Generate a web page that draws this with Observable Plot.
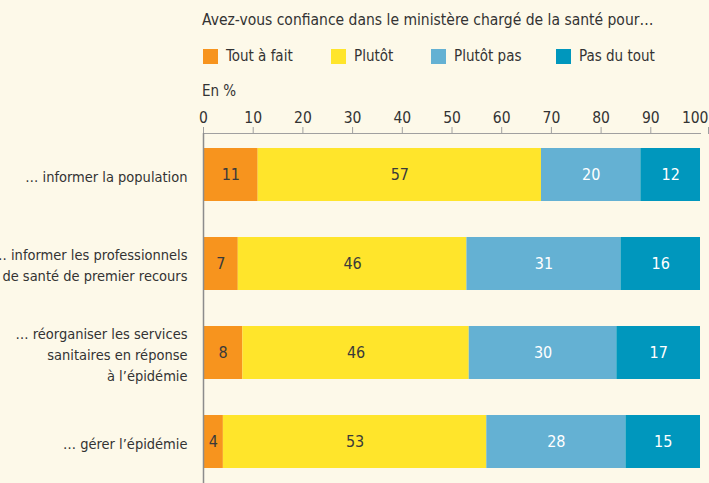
<!DOCTYPE html>
<html>
<head>
<meta charset="utf-8">
<script src="https://cdn.jsdelivr.net/npm/d3@7"></script>
<script src="https://cdn.jsdelivr.net/npm/@observablehq/plot@0.6"></script>
<style>
  html, body { margin: 0; padding: 0; background: #fdf9e9; }
  body { width: 709px; height: 483px; overflow: hidden; position: relative;
         font-family: "DejaVu Sans Condensed", "Roboto", sans-serif; color: #333; }
  #title { position: absolute; left: 202px; top: 11px; font-size: 15.5px; white-space: nowrap; }
  #legend { position: absolute; left: 203px; top: 47px; font-size: 15px; white-space: nowrap; }
  .item { position: absolute; top: 0; display: flex; align-items: center; }
  .sw { width: 15px; height: 15px; display: inline-block; margin-right: 8px; }
  #unit { position: absolute; left: 202px; top: 82px; font-size: 15px; }
  #chart { position: absolute; left: 0; top: 100px; }
</style>
</head>
<body>
<div id="title">Avez-vous confiance dans le ministère chargé de la santé pour…</div>
<div id="legend"></div>
<div id="unit">En %</div>
<div id="chart"></div>
<script>
const categories = [
  "… informer la population",
  "… informer les professionnels\nde santé de premier recours",
  "… réorganiser les services\nsanitaires en réponse\nà l’épidémie",
  "… gérer l’épidémie"
];
const series = ["Tout à fait", "Plutôt", "Plutôt pas", "Pas du tout"];
const colors = ["#f7941e", "#ffe52b", "#64b1d3", "#0097bd"];
const toutAFait = [11, 7, 8, 4];
const plutot = [57, 46, 46, 53];
const plutotPas = [20, 31, 30, 28];
const pasDuTout = [12, 16, 17, 15];
const xTicks = [0, 10, 20, 30, 40, 50, 60, 70, 80, 90, 100];

const seriesValues = [toutAFait, plutot, plutotPas, pasDuTout];
const data = [];
categories.forEach((c, i) => {
  series.forEach((s, j) => data.push({category: c, series: s, value: seriesValues[j][i]}));
});

// legend
const legend = document.getElementById("legend");
const legendX = [0, 128, 228, 353];
series.forEach((s, j) => {
  const it = document.createElement("div");
  it.className = "item";
  it.style.left = legendX[j] + "px";
  it.innerHTML = `<span class="sw" style="background:${colors[j]}"></span><span>${s}</span>`;
  legend.appendChild(it);
});

const stackOpts = {offset: "normalize", x: "value", y: "category", z: "series"};
const fontFamily = '"DejaVu Sans Condensed", "Roboto", sans-serif';
const darkLabel = new Set(["Tout à fait", "Plutôt"]);
const fmt = d => String(Math.round(d * 100));
const innerTicks = xTicks.slice(0, -1).map(t => t / 100);
const lastTick = xTicks.slice(-1).map(t => t / 100);

const chart = Plot.plot({
  width: 709,
  height: 383,
  marginTop: 33,
  marginRight: 9,
  marginBottom: 0,
  marginLeft: 203,
  style: {background: "transparent", fontFamily, fontSize: "15px", color: "#333"},
  x: {domain: [0, 1], label: null},
  y: {domain: categories, paddingInner: 0.41, paddingOuter: 0.166, align: 0.5, label: null},
  color: {domain: series, range: colors},
  marks: [
    Plot.barX(data, Plot.stackX({...stackOpts, fill: "series"})),
    Plot.text(data, Plot.stackX({...stackOpts,
      text: d => darkLabel.has(d.series) ? String(d.value) : null, fill: "#3a3a3a", fontSize: 16})),
    Plot.text(data, Plot.stackX({...stackOpts,
      text: d => darkLabel.has(d.series) ? null : String(d.value), fill: "white", fontSize: 16})),
    Plot.frame({anchor: "top", stroke: "#a0a0a0"}),
    Plot.axisX({anchor: "top", ticks: innerTicks, tickFormat: fmt,
      tickSize: 7, tickPadding: 4, stroke: "#a0a0a0", fill: "#333", fontSize: 15.5}),
    Plot.axisX({anchor: "top", ticks: lastTick, tickFormat: fmt, textAnchor: "end", dx: 8,
      tickSize: 7, tickPadding: 4, stroke: "#a0a0a0", fill: "#333", fontSize: 15.5}),
    Plot.ruleX([0], {stroke: "#8c8c8c", strokeWidth: 1.5}),
    Plot.axisY({tickSize: 0, tickPadding: 16, lineHeight: 1.45, fill: "#333", fontSize: 14.5})
  ]
});
document.getElementById("chart").appendChild(chart);
</script>
</body>
</html>
